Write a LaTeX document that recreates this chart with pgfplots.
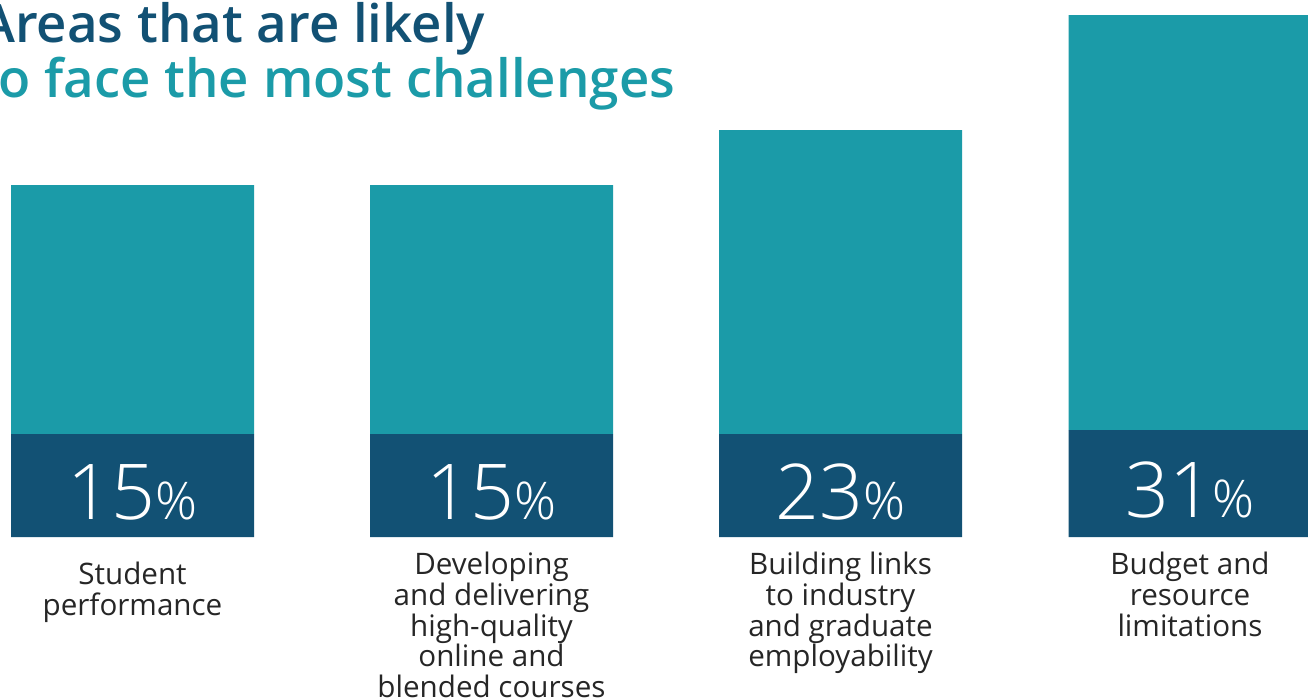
\documentclass[border=0pt]{standalone}
\usepackage{pgfplots}
\usepackage{pgfplotstable}
\pgfplotsset{compat=1.18}
\usepackage{fontspec}
\setmainfont{Open Sans}
\newfontfamily\lightfont{Open Sans Light}
\newfontfamily\semifont{Open Sans Semibold}

\definecolor{tealbar}{HTML}{1B9BA8}
\definecolor{darkbar}{HTML}{125174}
\definecolor{labelgray}{HTML}{262626}

% big number with a smaller percent sign
\newcommand{\pct}[1]{{\lightfont\fontsize{38.5}{38.5}\selectfont #1}{\lightfont\fontsize{26}{26}\selectfont\%}}
% category labels: fixed line pitch even with descenders
\newcommand{\labelfont}{\fontsize{14.8}{15.35}\selectfont\lineskiplimit=-20pt\relax\lineskip=0pt\relax}

% bar heights measured in picture pixels (bar base = 0)
\pgfplotstableread{
x      dark  teal  pct
132.5  103   249   15
491.5  103   249   15
840.5  103   304   23
1190   107   415   31
}\datatable

\begin{document}
\begin{tikzpicture}
\path[use as bounding box] (0,0) rectangle (654pt,349pt);
\clip (0,0) rectangle (654pt,349pt);
\begin{axis}[
    at={(0,0)}, anchor=south west,
    scale only axis, width=654pt, height=349pt,
    xmin=0, xmax=1308, ymin=-161, ymax=537,
    ybar stacked, bar width=243,
    axis line style={draw=none},
    major tick length=0pt,
    ymajorticks=false,
    xtick={132.5,491.5,840.5,1190},
    xticklabels={
        {\raisebox{0pt}[\dimexpr\height+5pt\relax]{Student}\\performance},
        {Developing\\and delivering\\high-quality\\online and\\blended courses},
        {Building links\\to industry\\and graduate\\employability},
        {Budget and\\resource\\limitations}},
    xticklabel style={align=center, anchor=north, inner sep=0pt,
        yshift=73pt, text=labelgray, font=\labelfont},
]
\addplot[fill=darkbar, draw=none,
    point meta=explicit symbolic,
    nodes near coords={\pct{\pgfplotspointmeta}},
    every node near coord/.append style={text=white, anchor=base, yshift=-17pt}]
    table[x=x, y=dark, meta=pct] {\datatable};
\addplot[fill=tealbar, draw=none] table[x=x, y=teal] {\datatable};
\end{axis}
\node[anchor=base east, inner sep=0pt, text=darkbar, font=\semifont\fontsize{26.4}{26.4}\selectfont]
    at (242.8pt,327.5pt) {Areas that are likely};
\node[anchor=base east, inner sep=0pt, text=tealbar, font=\semifont\fontsize{26.4}{26.4}\selectfont]
    at (337.8pt,300pt) {to face the most challenges};
\end{tikzpicture}
\end{document}
